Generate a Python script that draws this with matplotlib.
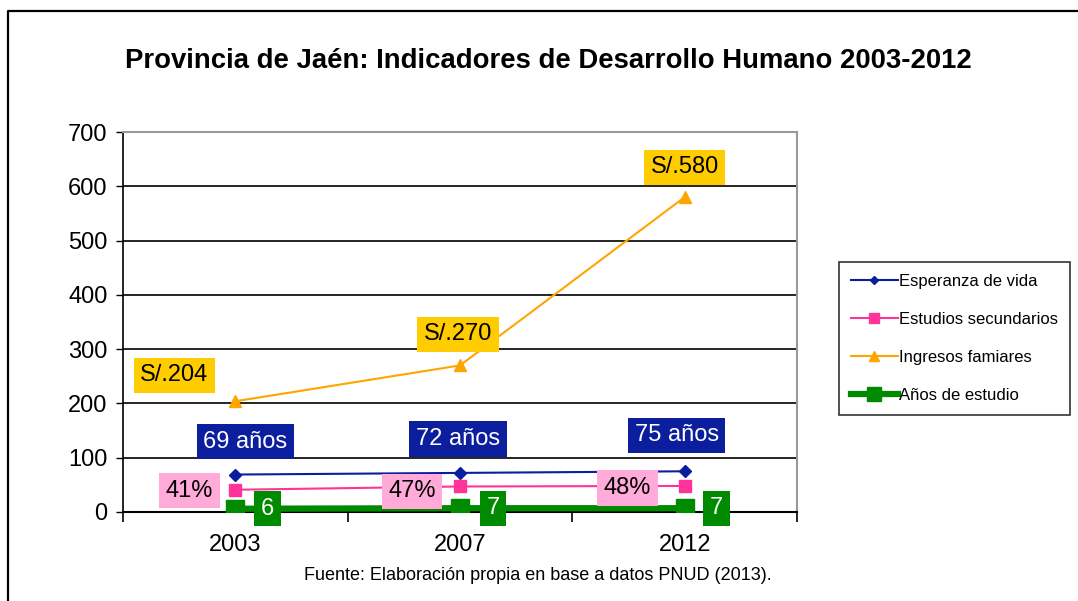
import matplotlib
matplotlib.use("Agg")
import matplotlib.pyplot as plt
from matplotlib.lines import Line2D
from matplotlib.ticker import FixedLocator, NullFormatter

plt.rcParams["font.family"] = ["Liberation Sans", "DejaVu Sans"]

# Datos
anios = ["2003", "2007", "2012"]
esperanza = [69, 72, 75]
estudios = [41, 47, 48]
ingresos = [204, 270, 580]
anios_estudio = [6, 7, 7]

etiq_esperanza = ["69 años", "72 años", "75 años"]
etiq_estudios = ["41%", "47%", "48%"]
etiq_ingresos = ["S/.204", "S/.270", "S/.580"]
etiq_anios = ["6", "7", "7"]

W, H = 1078, 601
fig = plt.figure(figsize=(W / 100, H / 100), dpi=100)
ax = fig.add_axes([123 / W, 1 - 512 / H, (797 - 123) / W, (512 - 132) / H])

x = list(range(len(anios)))

ax.plot(x, esperanza, color="#0A1E9E", lw=1.5, marker="D", ms=6,
        label="Esperanza de vida", zorder=4)
ax.plot(x, estudios, color="#FF3399", lw=1.5, marker="s", ms=9,
        label="Estudios secundarios", zorder=4)
ax.plot(x, ingresos, color="#FFA500", lw=1.5, marker="^", ms=9,
        label="Ingresos famiares", zorder=4)
ax.plot(x, anios_estudio, color="#008A00", lw=4.5, marker="s", ms=13,
        label="Años de estudio", zorder=4)

ax.set_xlim(-0.5, 2.5)
ax.set_ylim(0, 700)
ax.set_yticks(range(0, 701, 100))
ax.tick_params(axis="y", labelsize=17, direction="out", length=5, width=1, pad=6)
ax.set_xticks(x)
ax.set_xticklabels(anios)
ax.xaxis.set_minor_locator(FixedLocator([-0.5, 0.5, 1.5, 2.5]))
ax.xaxis.set_minor_formatter(NullFormatter())
ax.tick_params(axis="x", which="major", length=0, labelsize=17, pad=16)
ax.tick_params(axis="x", which="minor", length=7, width=1.2, direction="out")

ax.grid(axis="y", color="black", lw=1.2)
ax.set_axisbelow(True)
for s in ["top", "right"]:
    ax.spines[s].set_color("#999999")
    ax.spines[s].set_linewidth(1.5)
ax.spines["left"].set_linewidth(1.2)
ax.spines["bottom"].set_linewidth(1.5)

# etiquetas de datos (desplazamientos en pixeles)
def etiquetas(vals, textos, offs, fondo, color_txt):
    for xi, v, t, (dx, dy) in zip(x, vals, textos, offs):
        ax.annotate(t, (xi, v), xytext=(dx, dy), textcoords="offset pixels",
                    ha="center", va="center", fontsize=17, color=color_txt,
                    bbox=dict(boxstyle="square,pad=0.28", fc=fondo, ec="none"),
                    zorder=6)

etiquetas(ingresos, etiq_ingresos, [(-61, 26), (-2, 31), (0, 30)], "#FFCC00", "black")
etiquetas(esperanza, etiq_esperanza, [(10, 33), (-2, 34), (-8, 36)], "#0A1E9E", "white")
etiquetas(estudios, etiq_estudios, [(-46, -1), (-48, -5), (-57, -2)], "#FFAAD8", "black")
etiquetas(anios_estudio, etiq_anios, [(32, 0), (33, 0), (32, 0)], "#008A00", "white")

leg = fig.legend(loc="upper left", bbox_to_anchor=(839 / W, 1 - 262 / H),
                 fontsize=12, frameon=True, fancybox=False, handlelength=2.8,
                 labelspacing=1.38, borderpad=0.72, handletextpad=0.1,
                 borderaxespad=0, markerscale=0.75)
leg.get_frame().set_edgecolor("black")
leg.get_frame().set_linewidth(1.2)

fig.text(548 / W, 1 - 61 / H, "Provincia de Jaén: Indicadores de Desarrollo Humano 2003-2012",
         ha="center", va="center", fontsize=19.8, fontweight="bold")
fig.text(538 / W, 1 - 576 / H, "Fuente: Elaboración propia en base a datos PNUD (2013).",
         ha="center", va="center", fontsize=13)

# borde exterior
fig.add_artist(Line2D([8 / W, 8 / W, 1], [0, 1 - 11 / H, 1 - 11 / H],
                      transform=fig.transFigure, color="black", lw=1.6))

fig.savefig("out.png", dpi=100)
